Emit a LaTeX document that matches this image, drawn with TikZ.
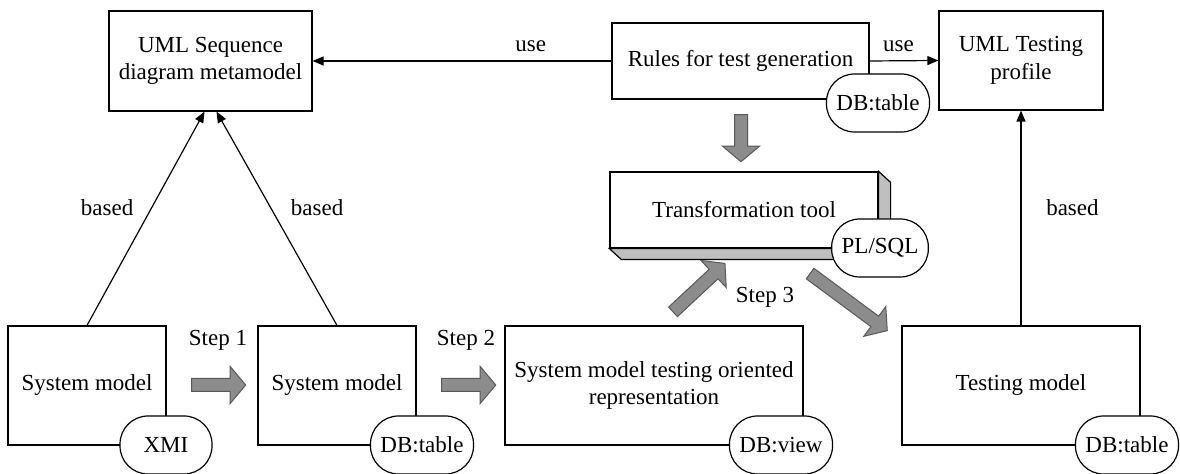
\documentclass[tikz,border=0pt]{standalone}
\usepackage{fontspec}
\setmainfont{Liberation Serif}
\usetikzlibrary{arrows.meta,shapes.arrows,calc}

\begin{document}
\begin{tikzpicture}[x=0.5pt,y=-0.5pt,
  font=\fontsize{11.5}{13.8}\selectfont,
  box/.style={draw,line width=0.6pt,align=center,inner sep=0pt},
  tag/.style={draw,fill=white,line width=0.6pt,rounded corners=14pt,
    minimum width=46pt,minimum height=29pt,inner xsep=5pt},
  blockarr/.style={single arrow,draw=black!65,fill=black!45,line width=0.5pt,
    inner sep=0pt,inner ysep=3pt,single arrow head extend=6pt,
    single arrow tip angle=100,minimum width=18pt},
  rel/.style={line width=0.6pt,-{Triangle[length=5.5pt,width=4.5pt]}}]
\useasboundingbox (0,0) rectangle (1180,474);
% metamodels and rules
\node[box,minimum width=101.5pt,minimum height=50pt] (seq) at (210.5,61) {UML Sequence\\diagram metamodel};
\node[box,minimum width=128.5pt,minimum height=38pt] (rules) at (740.5,61) {Rules for test generation};
\node[box,minimum width=82pt,minimum height=49.5pt] (prof) at (1021,60.5) {UML Testing\\profile};
% tool, drawn as a block
\node[box,minimum width=134pt,minimum height=38pt] (tool) at (744,210) {Transformation tool};
\filldraw[fill=gray!50,line width=0.6pt] (tool.north east) -- ++(12,11) |- ($(tool.south west)+(12,11)$)
  -- (tool.south west) -- (tool.south east) -- cycle;
% models
\node[box,minimum width=79pt,minimum height=59.5pt] (sm1) at (87,385.5) {System model};
\node[box,minimum width=79pt,minimum height=59.5pt] (sm2) at (337,385.5) {System model};
\node[box,minimum width=149pt,minimum height=59.5pt] (rep) at (654,385.5) {System model testing oriented\\representation};
\node[box,minimum width=119pt,minimum height=59.5pt] (test) at (1021,385.5) {Testing model};
% storage tags
\node[tag] (xmi) at (166,445) {XMI};
\node[tag] (smtab) at (422,445) {DB:table};
\node[tag] (ruletab) at (878,103) {DB:table};
\node[tag] (plsql) at (880,248) {PL/SQL};
\node[tag] (view) at (781,445) {DB:view};
\node[tag] (testtab) at (1127,445) {DB:table};
% relations
\draw[rel] (rules.west) -- (seq.east) node[pos=0.27,above=1pt] {use};
\draw[rel] (rules.east) -- (prof.west) node[pos=0.42,above=1pt] {use};
\draw[rel] (sm1.north) -- ([xshift=-3pt]seq.south) node[pos=0.55,left=5.5pt] {based};
\draw[rel] (sm2.north) -- ([xshift=3pt]seq.south) node[pos=0.55,right=6.5pt] {based};
\draw[rel] (test.north) -- (prof.south) node[pos=0.55,right=9pt] {based};
% steps
\node[blockarr,minimum height=27pt] (st1) at (216,385) {};
\node[blockarr,minimum height=27pt] (st2) at (466,385) {};
\node[blockarr,minimum height=23.5pt,rotate=-90] (feed) at (741,135.5) {};
\node[blockarr,minimum height=35.5pt,rotate=43] (st3in) at (697,289.5) {};
\node[blockarr,minimum height=48pt,rotate=-36.5] (st3out) at (846.5,300.5) {};
\node (lst1) at (218,340) {Step 1};
\node (lst2) at (466,340) {Step 2};
\node (lst3) at (765,297) {Step 3};
\end{tikzpicture}
\end{document}
